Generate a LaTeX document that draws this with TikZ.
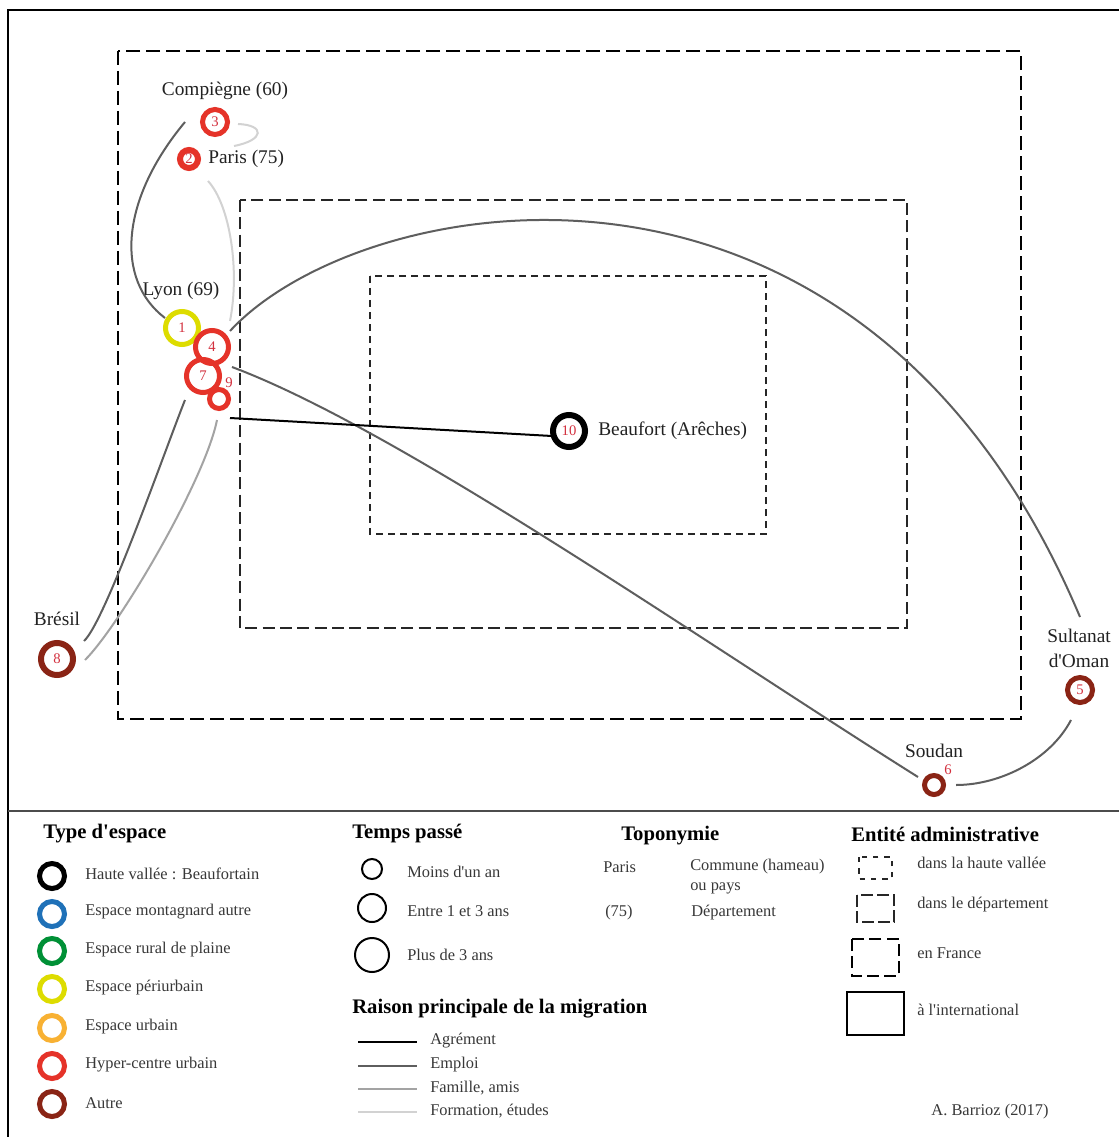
\documentclass[tikz,border=0pt]{standalone}
\usepackage{fontspec}
\setmainfont{Liberation Serif}[Ligatures=TeXOff]
\usetikzlibrary{calc}
\definecolor{ringred}{HTML}{E53329}
\definecolor{ringyel}{HTML}{DDDC00}
\definecolor{ringbrown}{HTML}{8A2415}
\definecolor{ringblue}{HTML}{1F71B8}
\definecolor{ringgreen}{HTML}{009036}
\definecolor{ringorange}{HTML}{F8B133}
\definecolor{numred}{HTML}{D3303E}
\definecolor{txt}{HTML}{222222}
\definecolor{cEmploi}{HTML}{5E5E5E}
\definecolor{cFamille}{HTML}{A3A3A3}
\definecolor{cFormation}{HTML}{D2D2D2}
\begin{document}
\begin{tikzpicture}[x=0.75pt,y=-0.75pt,
  ringbase/.style={circle,inner sep=0pt,text=numred,font=\fontsize{11}{12}\selectfont},
  ringL/.style={ringbase,minimum size=24.75pt,line width=3.75pt},
  ringLL/.style={ringbase,minimum size=24pt,line width=4.5pt},
  ringM/.style={ringbase,minimum size=18.75pt,line width=3.75pt},
  ringS/.style={ringbase,minimum size=14.25pt,line width=3.75pt},
  numlab/.style={text=numred,font=\fontsize{11}{12}\selectfont,inner sep=0pt},
  place/.style={font=\fontsize{14.5}{18.75}\selectfont,text=txt,inner sep=0pt},
  head/.style={font=\fontsize{15.5}{18}\selectfont\bfseries,text=black,inner sep=0pt,anchor=west},
  leg/.style={font=\fontsize{12.3}{15.5}\selectfont,text=txt!90,inner sep=0pt,anchor=west},
  tcirc/.style={circle,draw=black,line width=1.5pt,inner sep=0pt},
  agrement/.style={black,line width=1.5pt},
  emploi/.style={cEmploi,line width=1.5pt},
  famille/.style={cFamille,line width=1.5pt},
  formation/.style={cFormation,line width=1.5pt},
  france/.style={line width=1.9pt,dash pattern=on 10.5pt off 4.5pt},
  dept/.style={line width=0.85pt,black!85,dash pattern=on 9pt off 4pt},
  vallee/.style={line width=0.85pt,black!85,dash pattern=on 5pt off 4pt},
  smallvallee/.style={line width=0.85pt,black!85,dash pattern=on 4pt off 4.5pt},
  smalldept/.style={line width=0.85pt,black!85,dash pattern=on 9pt off 3pt},
  smallfrance/.style={line width=1.9pt,dash pattern=on 9pt off 4pt},
]
\useasboundingbox (0,0) rectangle (1119,1137);
\clip (0,0) rectangle (1119,1137);
\fill[white] (0,0) rectangle (1119,1137);

% frame
\draw[line width=1.5pt] (8,10) rectangle (1140,1160);
\draw[line width=0.8pt,black!70] (8,811) -- (1140,811);

% administrative rectangles
\draw[france] (118,51) rectangle (1021,719);
\draw[dept] (240,200) rectangle (907,628);
\draw[vallee] (370,276) rectangle (766,534);

% rings
\node[ringM,draw=ringred] (c3) at (215,122) {3};
\node[ringbase,minimum size=13.5pt,line width=4.5pt,draw=ringred] (c2) at (189,159) {2};
\node[ringL,draw=ringyel] (c1) at (182,328) {1};
\node[ringL,draw=ringred] (c7) at (203,376) {7};
\node[ringL,draw=ringred] (c4) at (212,347) {4};
\node[ringS,draw=ringred] (c9) at (219,399) {};
\node[numlab] (n9) at (229,383) {9};
\node[ringLL,draw=black] (c10) at (569,431) {10};
\node[ringLL,draw=ringbrown] (c8) at (57,659) {8};
\node[ringM,draw=ringbrown] (c5) at (1080,690) {5};
\node[ringS,draw=ringbrown] (c6) at (934,785) {};
\node[numlab] (n6) at (948,770) {6};

% place labels
\node[place] (lComp) at (225,91) {Compiègne (60)};
\node[place,anchor=west] (lParis) at (208,159) {Paris (75)};
\node[place] (lLyon) at (181,291) {Lyon (69)};
\node[place] (lBres) at (57,619) {Brésil};
\node[place,align=center] (lOman) at (1079,648) {Sultanat\\d'Oman};
\node[place] (lSoud) at (934,751) {Soudan};
\node[place,anchor=west] (lBeau) at (598,431) {Beaufort (Arêches)};

% connectors
\draw[formation] ($(c3)+(23,2)$) .. controls ($(c3)+(50,3)$) and ($(c3)+(50,18)$) .. ($(c2)+(45,-13)$);
\draw[formation] ($(c2)+(19,22)$) .. controls (230,205) and (240,270) .. ($(c4)+(18,-26)$);
\draw[emploi] ($(c3)+(-30,0)$) .. controls (120,200) and (115,280) .. ($(c1)+(-17,-10)$);
\draw[emploi] ($(c4)+(18,-16)$) .. controls (360,190) and (860,95) .. ($(c5)+(0,-73)$);
\draw[emploi] ($(c7)+(29,-9)$) .. controls (400,430) and (700,640) .. ($(c6)+(-16,-8)$);
\draw[agrement] ($(c9)+(11,19)$) -- ($(c10)+(-17,5)$);
\draw[emploi] ($(c8)+(27,-18)$) .. controls (105,622) and (165,450) .. ($(c7)+(-18,24)$);
\draw[famille] ($(c8)+(28,1)$) .. controls (120,625) and (205,480) .. ($(c9)+(-2,21)$);
\draw[emploi] ($(c5)+(-9,30)$) .. controls (1050,760) and (1000,785) .. ($(c6)+(22,0)$);

% ---------- legend ----------
\node[head] (hType) at (43,834) {Type d'espace};
\node[ringM,draw=black] (r1) at (52,876) {};
\node[ringM,draw=ringblue] (r2) at (52,914) {};
\node[ringM,draw=ringgreen] (r3) at (52,951) {};
\node[ringM,draw=ringyel] (r4) at (52,989) {};
\node[ringM,draw=ringorange] (r5) at (52,1028) {};
\node[ringM,draw=ringred] (r6) at (52,1066) {};
\node[ringM,draw=ringbrown] (r7) at (52,1104) {};
\node[leg] (t1) at (85,874) {Haute vallée : Beaufortain};
\node[leg] (t2) at (85,912) {Espace montagnard autre};
\node[leg] (t3) at (85,950) {Espace rural de plaine};
\node[leg] (t4) at (85,988) {Espace périurbain};
\node[leg] (t5) at (85,1027) {Espace urbain};
\node[leg] (t6) at (85,1065) {Hyper-centre urbain};
\node[leg] (t7) at (85,1103) {Autre};

\node[head] (hTemps) at (352,834) {Temps passé};
\node[tcirc,minimum size=15pt] (s1) at (372,869) {};
\node[tcirc,minimum size=21pt] (s2) at (372,908) {};
\node[tcirc,minimum size=25.5pt] (s3) at (372,955) {};
\node[leg] (ts1) at (407,872) {Moins d'un an};
\node[leg] (ts2) at (407,911) {Entre 1 et 3 ans};
\node[leg] (ts3) at (407,955) {Plus de 3 ans};

\node[head] (hRaison) at (352,1009) {Raison principale de la migration};
\node[leg] (tr1) at (430,1041) {Agrément};
\node[leg] (tr2) at (430,1065) {Emploi};
\node[leg] (tr3) at (430,1088) {Famille, amis};
\node[leg] (tr4) at (430,1111) {Formation, études};
\coordinate (lr1) at (358,1042);
\coordinate (lr2) at (358,1066);
\coordinate (lr3) at (358,1089);
\coordinate (lr4) at (358,1112);
\draw[agrement] (lr1) -- ++(59,0);
\draw[emploi] (lr2) -- ++(59,0);
\draw[famille] (lr3) -- ++(59,0);
\draw[formation] (lr4) -- ++(59,0);

\node[head] (hTopo) at (621,836) {Toponymie};
\node[leg] (tp1) at (603,867) {Paris};
\node[leg] (tp2) at (690,867) {Commune (hameau)};
\node[leg] (tp3) at (690,888) {ou pays};
\node[leg] (tp4) at (605,913) {(75)};
\node[leg] (tp5) at (691,913) {Département};

\node[head] (hEnt) at (851,834) {Entité administrative};
\draw[smallvallee] (859,857) rectangle (892,879);
\draw[smalldept] (857,895) rectangle (894,922);
\draw[smallfrance] (852,939) rectangle (899,976);
\draw[line width=1.9pt] (847,992) rectangle (904,1035);
\node[leg] (te1) at (917,863) {dans la haute vallée};
\node[leg] (te2) at (917,905) {dans le département};
\node[leg] (te3) at (917,953) {en France};
\node[leg] (te4) at (917,1010) {à l'international};

\node[leg,anchor=center] (auth) at (990,1112) {A. Barrioz (2017)};
\end{tikzpicture}
\end{document}
